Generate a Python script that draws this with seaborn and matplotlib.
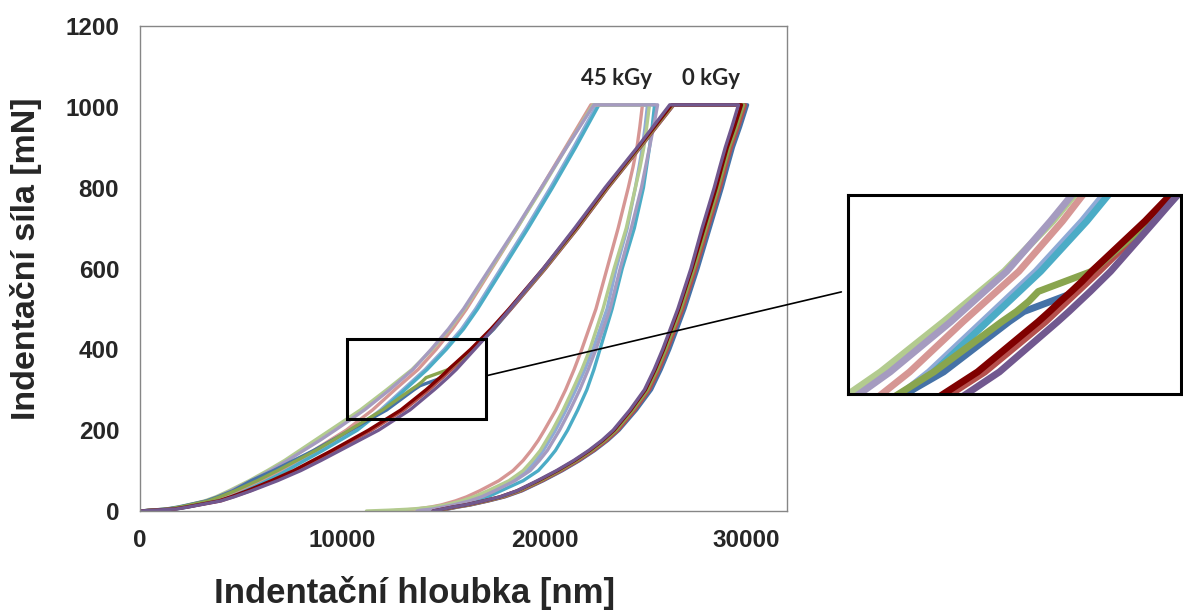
import pandas as pd
import seaborn as sns
import matplotlib.pyplot as plt
from matplotlib.patches import Rectangle, ConnectionPatch

# ---- force levels (mN) ----
LOAD_F = [0, 5, 10, 25, 35, 50, 75, 100, 125, 150, 175, 200, 250, 300, 310, 320, 330, 340, 350,
          400, 450, 500, 600, 700, 800, 900, 1005]
UNLOAD_F = [1005, 950, 900, 850, 800, 700, 600, 500, 400, 350, 300, 250, 200, 175, 150, 125,
            100, 75, 50, 35, 25, 15, 10, 5, 2, 0]

# ---- 45 kGy depths (nm) ----
load_45_green = [0, 1400, 2000, 3200, 3750, 4400, 5400, 6300, 7150, 7900, 8650, 9400, 10900, 12200, 12450,
                 12700, 12950, 13200, 13450, 14450, 15300, 16050, 17350, 18650, 19900, 21100, 22400]
load_45_purple = [0, 1500, 2100, 3300, 3850, 4500, 5500, 6450, 7300, 8100, 8900, 9650, 11100, 12350, 12580,
                  12810, 13040, 13270, 13500, 14400, 15250, 16000, 17300, 18600, 19850, 21100, 22450]
load_45_pink = [0, 1600, 2200, 3500, 4050, 4800, 5900, 6900, 7770, 8600, 9400, 10200, 11500, 12600, 12830,
                13060, 13290, 13520, 13750, 14650, 15450, 16150, 17400, 18650, 19850, 21050, 22300]
load_45_blue = [0, 1700, 2300, 3700, 4250, 5000, 6100, 7100, 8000, 8900, 9750, 10600, 11900, 13000, 13220,
                13440, 13660, 13880, 14100, 15050, 15900, 16600, 17850, 19100, 20300, 21450, 22600]
load_45_teal = [0, 1800, 2400, 3800, 4350, 5150, 6250, 7250, 8150, 9050, 9900, 10750, 12000, 13100, 13320,
                13540, 13760, 13980, 14200, 15150, 16000, 16700, 17950, 19200, 20400, 21550, 22700]

unload_45_green = [25200, 25060, 24920, 24730, 24500, 24050, 23450, 22900, 22250, 21850, 21400, 20930, 20400,
                   20100, 19800, 19400, 18950, 18250, 17200, 16500, 15900, 15100, 14500, 13500, 12300, 11200]
unload_45_purple = [25600, 25400, 25200, 25000, 24800, 24300, 23750, 23250, 22550, 22170, 21750, 21270, 20750,
                    20450, 20150, 19750, 19300, 18550, 17550, 16900, 16300, 15500, 15000, 14500, 13900, 13700]
unload_45_pink = [24850, 24720, 24580, 24380, 24150, 23650, 23100, 22550, 21850, 21470, 21050, 20570, 20000,
                  19700, 19350, 18950, 18450, 17750, 16800, 16150, 15600, 14900, 14400, 13700, 12900, 12300]
unload_45_blue = [25100, 24980, 24850, 24680, 24500, 24100, 23550, 23100, 22400, 22000, 21550, 21070, 20550,
                  20250, 19950, 19580, 19150, 18450, 17450, 16800, 16200, 15500, 15000, 14600, 14200, 14000]
unload_45_teal = [25450, 25330, 25200, 25050, 24900, 24450, 23850, 23350, 22750, 22450, 22100, 21650, 21150,
                  20850, 20550, 20150, 19700, 18950, 17850, 17200, 16650, 15950, 15500, 15000, 14600, 14300]

# ---- 0 kGy depths (nm) ----
load_0_olive = [0, 1400, 2000, 3400, 3950, 4700, 5800, 6800, 7750, 8700, 9550, 10350, 12000, 13400, 13700,
                13950, 14150, 14700, 15250, 16450, 17450, 18300, 20000, 21600, 23100, 24700, 26350]
load_0_blue = [0, 1300, 1900, 3300, 3850, 4600, 5500, 6600, 7600, 8600, 9500, 10400, 12200, 13550, 13850,
               14400, 14950, 15150, 15350, 16500, 17500, 18350, 20050, 21650, 23150, 24750, 26400]
load_0_darkred = [0, 1700, 2300, 3900, 4500, 5300, 6500, 7600, 8550, 9500, 10400, 11300, 12900, 14150, 14380,
                  14600, 14830, 15050, 15250, 16350, 17350, 18250, 19950, 21550, 23050, 24650, 26300]
load_0_red = [0, 1750, 2350, 4000, 4600, 5450, 6650, 7750, 8700, 9650, 10550, 11450, 13050, 14300, 14520,
              14740, 14960, 15180, 15400, 16450, 17450, 18350, 20050, 21650, 23150, 24750, 26400]
load_0_purple = [0, 1800, 2400, 4000, 4650, 5500, 6800, 7950, 8950, 9900, 10850, 11800, 13350, 14550, 14780,
                 15000, 15220, 15430, 15640, 16550, 17450, 18300, 19950, 21500, 23000, 24600, 26200]

unload_0_olive = [29850, 29500, 29150, 28870, 28600, 28000, 27400, 26750, 26000, 25580, 25100, 24380, 23550,
                  23000, 22350, 21600, 20750, 19800, 18750, 17900, 17100, 16200, 15600, 15100, 14800, 14600]
unload_0_blue = [30050, 29700, 29350, 29070, 28800, 28200, 27600, 26950, 26200, 25780, 25300, 24560, 23700,
                 23150, 22500, 21750, 20900, 19950, 18900, 18050, 17250, 16350, 15750, 15250, 14950, 14750]
unload_0_darkred = [29750, 29400, 29050, 28770, 28500, 27900, 27300, 26650, 25900, 25480, 25000, 24280, 23450,
                    22900, 22250, 21500, 20650, 19700, 18650, 17800, 17000, 16100, 15500, 15000, 14700, 14500]
unload_0_red = [29950, 29600, 29250, 28970, 28700, 28100, 27500, 26850, 26100, 25680, 25200, 24480, 23650,
                23100, 22450, 21700, 20850, 19900, 18850, 18000, 17200, 16300, 15700, 15200, 14900, 14700]
unload_0_purple = [29600, 29270, 28950, 28670, 28400, 27800, 27250, 26600, 25850, 25430, 24950, 24230, 23400,
                   22850, 22200, 21450, 20600, 19650, 18650, 17800, 17000, 16100, 15500, 15000, 14700, 14500]

# drawing order: later entries are drawn on top
curves = {
    "45 blue": (load_45_blue, unload_45_blue, "#8FAAD6"),
    "45 teal": (load_45_teal, unload_45_teal, "#4BACC6"),
    "45 pink": (load_45_pink, unload_45_pink, "#D69694"),
    "45 green": (load_45_green, unload_45_green, "#B3CB8F"),
    "45 purple": (load_45_purple, unload_45_purple, "#A59BC0"),
    "0 blue": (load_0_blue, unload_0_blue, "#4572A7"),
    "0 red": (load_0_red, unload_0_red, "#B5504D"),
    "0 olive": (load_0_olive, unload_0_olive, "#89A54E"),
    "0 darkred": (load_0_darkred, unload_0_darkred, "#800000"),
    "0 purple": (load_0_purple, unload_0_purple, "#71588F"),
}

frames = []
for name, (lh, uh, _) in curves.items():
    frames.append(pd.DataFrame({"depth": lh + uh, "force": LOAD_F + UNLOAD_F, "curve": name}))
df = pd.concat(frames, ignore_index=True)
palette = {name: c for name, (_, _, c) in curves.items()}
order = list(curves.keys())

sns.set_style("white")
plt.rcParams['font.family'] = ['Liberation Sans', 'DejaVu Sans']

fig = plt.figure(figsize=(11.83, 6.10), dpi=100)
ax = fig.add_axes([140 / 1183, 1 - 511 / 610, 647 / 1183, 485 / 610])

sns.lineplot(data=df, x="depth", y="force", hue="curve", hue_order=order, palette=palette,
             sort=False, estimator=None, legend=False, linewidth=2.4, ax=ax)

ax.set_xlim(0, 32000)
ax.set_ylim(0, 1200)
ax.set_xticks([0, 10000, 20000, 30000])
ax.set_yticks(range(0, 1201, 200))
ax.tick_params(direction="out", length=6, width=1, color="#868686", labelsize=17.5)
ax.tick_params(axis="y", pad=9)
ax.tick_params(axis="x", pad=7)
for lbl in ax.get_xticklabels() + ax.get_yticklabels():
    lbl.set_fontweight("bold")
for sp in ax.spines.values():
    sp.set_color("#868686")
    sp.set_linewidth(1)

ax.set_xlabel("Indentační hloubka [nm]", fontsize=25, fontweight="bold")
ax.set_ylabel("Indentační síla [mN]", fontsize=24.5, fontweight="bold")
ax.xaxis.set_label_coords(0.425, -0.135)
ax.yaxis.set_label_coords(-0.151, 0.52)

ax.text(23550, 1071, "45 kGy", ha="center", va="center", fontsize=16, fontweight="bold",
        family=["Lato", "DejaVu Sans"])
ax.text(28250, 1071, "0 kGy", ha="center", va="center", fontsize=16, fontweight="bold",
        family=["Lato", "DejaVu Sans"])

# zoom window
x0, x1, y0, y1 = 10230, 17090, 228, 426
ax.add_patch(Rectangle((x0, y0), x1 - x0, y1 - y0, fill=False, ec="black", lw=2.2, zorder=5))

axin = fig.add_axes([848 / 1183, 1 - 394 / 610, 333 / 1183, 199 / 610])
sns.lineplot(data=df, x="depth", y="force", hue="curve", hue_order=order, palette=palette,
             sort=False, estimator=None, legend=False, linewidth=5, ax=axin)
axin.set_xlim(x0, x1)
axin.set_ylim(y0, y1)
axin.set_xticks([])
axin.set_yticks([])
axin.set_xlabel("")
axin.set_ylabel("")
for sp in axin.spines.values():
    sp.set_color("black")
    sp.set_linewidth(2.2)

con = ConnectionPatch(xyA=(17160, 335), coordsA=ax.transData,
                      xyB=(-0.02, 0.513), coordsB=axin.transAxes,
                      color="black", lw=1.2)
fig.add_artist(con)

fig.savefig("out.png", dpi=100)
